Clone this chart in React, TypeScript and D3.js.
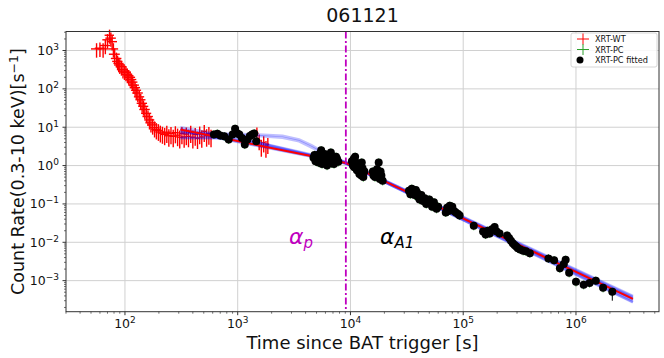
import React from "react";
import * as d3 from "d3";

// XRT-WT points: [time, rate, timeErr, rateErr]
const wtPoints: number[][] = [
  [56, 1100, 6, 450], [60, 1150, 6, 470], [64, 1100, 7, 450], [67, 1350, 7, 550],
  [70, 1900, 7, 780], [73, 2500, 7, 1000], [75, 2100, 8, 850], [77, 1700, 8, 700],
  [79, 1100, 8, 450], [81, 800, 9, 330], [84, 620, 9, 260], [86, 520, 9, 215],
  [88, 460, 9, 190], [90, 420, 10, 175], [93, 380, 10, 160], [96, 320, 10, 135],
  [99, 290, 10, 120], [102, 270, 11, 112], [105, 240, 11, 100], [108, 220, 11, 92],
  [111, 200, 12, 84], [114, 175, 12, 73], [117, 150, 12, 63], [120, 125, 13, 52],
  [123, 108, 13, 45], [126, 92, 13, 39], [130, 78, 14, 33], [134, 62, 14, 26],
  [138, 52, 14, 22], [142, 42, 15, 18], [146, 35, 15, 15], [150, 29, 16, 12.5],
  [155, 23, 16, 10], [160, 19, 17, 8.2], [165, 15.5, 17, 6.8], [170, 13, 18, 5.7],
  [176, 11.5, 18, 5.1], [183, 9.8, 19, 4.4], [190, 8.8, 19, 4], [198, 8.2, 20, 3.8],
  [206, 7.5, 20, 3.5], [215, 7, 20, 3.3], [225, 6.5, 20, 3.1], [235, 7.4, 20, 3.5],
  [245, 6, 20, 2.9], [256, 6.9, 20, 3.3], [268, 5.8, 20, 2.8], [280, 7.2, 20, 3.4],
  [293, 6.2, 20, 3], [306, 5.5, 20, 2.7], [320, 6.9, 20, 3.3], [335, 5.6, 20, 2.7],
  [350, 6.6, 20, 3.2], [366, 5.8, 20, 2.8], [383, 7.4, 20, 3.5], [400, 5.5, 20, 2.7],
  [420, 6.4, 20, 3.1], [440, 5.2, 20, 2.5], [460, 7.0, 20, 3.4], [480, 5.6, 20, 2.7],
  [505, 7.8, 20, 3.7], [530, 6.0, 20, 2.9], [555, 6.8, 20, 3.3], [580, 5.8, 20, 2.8],
  [1480, 7.0, 50, 2.9], [1550, 4.5, 50, 2], [1620, 3.2, 50, 1.5],
  [1700, 4.0, 50, 1.8], [1780, 3.0, 50, 1.4], [1850, 3.6, 50, 1.6],
];

// XRT-PC points (all fitted): [time, rate]
const pcPoints: number[][] = [
  [615, 6.5], [660, 6.8], [700, 6.1], [760, 5.8], [832, 4.8], [900, 6.5],
  [948, 9.1], [990, 7.0], [1034, 6.5], [1090, 5.2], [1156, 3.55], [1220, 4.8],
  [1282, 5.9], [1340, 6.5], [1400, 6.9], [1460, 4.3],
  [4700, 1.6], [4800, 1.9], [4900, 1.3], [5000, 1.5], [5100, 1.9], [5200, 1.2],
  [5300, 1.5], [5400, 2.1], [5500, 2.5], [5550, 1.7], [5600, 1.1], [5700, 1.4],
  [5800, 1.7], [5900, 2.0], [6000, 1.5], [6100, 1.3], [6200, 1.0], [6300, 1.6],
  [6400, 1.8], [6500, 1.2], [6600, 1.4], [6700, 2.2], [6800, 1.15], [7000, 1.6],
  [7150, 1.1], [7300, 1.3], [7450, 1.7], [7600, 1.5], [7800, 1.25],
  [10300, 1.3], [10500, 1.0], [10700, 1.5], [10800, 0.9], [11000, 1.7],
  [11200, 1.2], [11400, 0.75], [11500, 1.0], [11700, 1.1], [11900, 0.8],
  [12000, 0.6], [12200, 0.95], [12300, 0.7], [12500, 0.55], [12600, 1.2],
  [12800, 0.85], [13000, 0.5], [13300, 0.7],
  [15800, 0.7], [16000, 0.55], [16500, 0.5], [16800, 0.65], [17200, 0.8],
  [17500, 0.6], [17800, 1.2], [18200, 0.45], [18500, 0.7], [18800, 0.55],
  [19300, 0.4],
  [33000, 0.22], [34000, 0.18], [35000, 0.25], [36000, 0.2], [37000, 0.17],
  [38000, 0.23], [39000, 0.2], [40000, 0.15], [41000, 0.13], [42500, 0.17],
  [44000, 0.12], [45500, 0.14], [47000, 0.1], [48500, 0.12], [50000, 0.13],
  [52000, 0.1], [53000, 0.085], [55000, 0.11], [56000, 0.09], [58000, 0.075],
  [60000, 0.085],
  [70000, 0.06], [72000, 0.08], [74000, 0.065], [76000, 0.09], [78000, 0.07],
  [80000, 0.085], [83000, 0.065], [86000, 0.06], [90000, 0.055], [93000, 0.05],
  [124000, 0.027], [150000, 0.019], [158000, 0.016], [165000, 0.02],
  [172000, 0.017], [180000, 0.022], [190000, 0.025], [198000, 0.019],
  [210000, 0.017],
  [245000, 0.015], [255000, 0.013], [265000, 0.011], [275000, 0.0095],
  [285000, 0.0085], [295000, 0.0078], [305000, 0.007], [320000, 0.0065],
  [340000, 0.006], [360000, 0.0058], [390000, 0.0052],
  [570000, 0.0038], [640000, 0.0034], [720000, 0.0021], [780000, 0.0027],
  [810000, 0.0035], [870000, 0.0016], [1000000, 0.00093], [1170000, 0.00078],
  [1320000, 0.00087], [1500000, 0.001], [1740000, 0.00065], [2100000, 0.00051],
];

// best fit (red) and posterior samples (blue)
const bestFit: number[][] = [[310, 8.7], [9100, 1.17], [3.2e6, 3.35e-4]];
const sampleFits: number[][][] = [
  [[310, 10], [1000, 5.3], [9100, 1.22], [3.2e6, 4.0e-4]],
  [[310, 5.4], [700, 5.3], [1500, 4.0], [9100, 1.15], [3.2e6, 2.8e-4]],
  [[310, 5.2], [800, 5.1], [1500, 3.9], [9100, 1.14], [3.2e6, 2.7e-4]],
  [[310, 7.0], [1400, 6.5], [2500, 6.0], [3500, 4.8], [4500, 3.4], [5400, 2.5], [9100, 1.2], [3.2e6, 3.6e-4]],
  [[310, 7.2], [1400, 6.0], [2500, 5.3], [3500, 4.3], [4500, 3.0], [5400, 2.3], [9100, 1.18], [3.2e6, 3.4e-4]],
  [[310, 8.2], [9100, 1.13], [3.2e6, 3.0e-4]],
  [[310, 9.0], [9100, 1.2], [3.2e6, 3.8e-4]],
  [[310, 8.5], [9100, 1.16], [3.2e6, 3.3e-4]],
];

const breakTime = 9100;
const xTicks = [1e2, 1e3, 1e4, 1e5, 1e6];
const yTicks = [1e-3, 1e-2, 1e-1, 1e0, 1e1, 1e2, 1e3];

const W = 664;
const H = 358;
const plot = { left: 66, right: 659, top: 31.5, bottom: 311.7 };
const font = "DejaVu Sans, sans-serif";

const minorTicks = (lo: number, hi: number) => {
  const out: number[] = [];
  for (let e = Math.floor(Math.log10(lo)); e <= Math.ceil(Math.log10(hi)); e++) {
    for (let m = 2; m <= 9; m++) {
      const v = m * Math.pow(10, e);
      if (v >= lo && v <= hi) out.push(v);
    }
  }
  return out;
};

const expLabel = (v: number) => {
  const e = Math.round(Math.log10(v));
  return e < 0 ? "\u2212" + Math.abs(e) : String(e);
};

const App = () => {
  const x = d3.scaleLog().domain([30, 5.45e6]).range([plot.left, plot.right]);
  const y = d3.scaleLog().domain([1.55e-4, 3130]).range([plot.bottom, plot.top]);
  const line = d3
    .line<number[]>()
    .x((d) => x(d[0]))
    .y((d) => y(d[1]));

  const [x0, x1] = x.domain();
  const [y0, y1] = y.domain();
  const last = pcPoints[pcPoints.length - 1];

  return (
    <div style={{ position: "absolute", left: 0, top: 0 }}>
      <svg width={W} height={H} style={{ display: "block", background: "#fff" }}>
        {/* grid */}
        {xTicks.map((t) => (
          <line key={"gx" + t} x1={x(t)} x2={x(t)} y1={plot.top} y2={plot.bottom} stroke="#d0d0d0" strokeWidth={1} />
        ))}
        {yTicks.map((t) => (
          <line key={"gy" + t} x1={plot.left} x2={plot.right} y1={y(t)} y2={y(t)} stroke="#d0d0d0" strokeWidth={1} />
        ))}

        {/* XRT-WT */}
        <g stroke="red" strokeWidth={1.4}>
          {wtPoints.map((d, i) => (
            <g key={i}>
              <line x1={x(d[0] - d[2])} x2={x(d[0] + d[2])} y1={y(d[1])} y2={y(d[1])} />
              <line x1={x(d[0])} x2={x(d[0])} y1={y(d[1] + d[3])} y2={y(d[1] - d[3])} />
            </g>
          ))}
        </g>

        {/* XRT-PC error bars */}
        <g stroke="#2ca02c" strokeWidth={1}>
          {pcPoints.map((d, i) => (
            <g key={i}>
              <line x1={x(d[0] * 0.93)} x2={x(d[0] * 1.07)} y1={y(d[1])} y2={y(d[1])} />
              <line x1={x(d[0])} x2={x(d[0])} y1={y(d[1] * 1.28)} y2={y(d[1] * 0.76)} />
            </g>
          ))}
        </g>

        {/* model samples */}
        {sampleFits.map((s, i) => (
          <path key={i} d={line(s) || ""} fill="none" stroke="blue" strokeOpacity={0.25} strokeWidth={2.6} />
        ))}
        <path d={line(bestFit) || ""} fill="none" stroke="red" strokeWidth={2} />

        {/* fitted PC points */}
        <g fill="black">
          {pcPoints.map((d, i) => (
            <circle key={i} cx={x(d[0])} cy={y(d[1])} r={4} />
          ))}
        </g>
        <line x1={x(last[0])} x2={x(last[0])} y1={y(last[1])} y2={y(0.0003)} stroke="black" strokeWidth={1} />

        {/* break time */}
        <line x1={x(breakTime)} x2={x(breakTime)} y1={plot.top} y2={plot.bottom}
          stroke="#bf00bf" strokeWidth={1.8} strokeDasharray="7,2.5,2,2.5" />

        <text x={289} y={244} fontFamily={font} fontStyle="italic" fontSize={22} fill="#bf00bf">
          α<tspan fontSize={15} dy={4}>p</tspan>
        </text>
        <text x={380} y={244} fontFamily={font} fontStyle="italic" fontSize={22} fill="black">
          α<tspan fontSize={15} dy={4}>A1</tspan>
        </text>

        {/* frame */}
        <rect x={plot.left} y={plot.top} width={plot.right - plot.left} height={plot.bottom - plot.top}
          fill="none" stroke="#333" strokeWidth={1} />

        {/* x ticks */}
        {xTicks.map((t) => (
          <g key={"xt" + t}>
            <line x1={x(t)} x2={x(t)} y1={plot.bottom} y2={plot.bottom + 3.5} stroke="#333" />
            <text x={x(t)} y={328} textAnchor="middle" fontFamily={font} fontSize={12.5} fill="#111">
              10<tspan fontSize={9} dy={-5}>{expLabel(t)}</tspan>
            </text>
          </g>
        ))}
        {minorTicks(x0, x1).map((t) => (
          <line key={"xm" + t} x1={x(t)} x2={x(t)} y1={plot.bottom} y2={plot.bottom + 2} stroke="#333" strokeWidth={0.7} />
        ))}

        {/* y ticks */}
        {yTicks.map((t) => (
          <g key={"yt" + t}>
            <line x1={plot.left - 3.5} x2={plot.left} y1={y(t)} y2={y(t)} stroke="#333" />
            <text x={59} y={y(t) + 4.5} textAnchor="end" fontFamily={font} fontSize={12.5} fill="#111">
              10<tspan fontSize={9} dy={-5}>{expLabel(t)}</tspan>
            </text>
          </g>
        ))}
        {minorTicks(y0, y1).map((t) => (
          <line key={"ym" + t} x1={plot.left - 2} x2={plot.left} y1={y(t)} y2={y(t)} stroke="#333" strokeWidth={0.7} />
        ))}

        {/* labels */}
        <text x={(plot.left + plot.right) / 2} y={22} textAnchor="middle" fontFamily={font} fontSize={19} fill="#111">
          061121
        </text>
        <text x={(plot.left + plot.right) / 2} y={349} textAnchor="middle" fontFamily={font} fontSize={18} fill="#111">
          Time since BAT trigger [s]
        </text>
        <text transform={`translate(24,${(plot.top + plot.bottom) / 2}) rotate(-90)`} textAnchor="middle"
          fontFamily={font} fontSize={17.5} fill="#111">
          Count Rate(0.3-10 keV)[s<tspan fontSize={12.5} dy={-6}>−1</tspan><tspan dy={6}>]</tspan>
        </text>

        {/* legend */}
        <g>
          <rect x={571} y={33} width={86} height={34} rx={2} fill="white" fillOpacity={0.85} stroke="#ccc" strokeWidth={0.8} />
          <g stroke="red" strokeWidth={1}>
            <line x1={577} x2={589} y1={39} y2={39} />
            <line x1={583} x2={583} y1={33.5} y2={44.5} />
          </g>
          <g stroke="#2ca02c" strokeWidth={1}>
            <line x1={577} x2={589} y1={49.5} y2={49.5} />
            <line x1={583} x2={583} y1={44} y2={55} />
          </g>
          <circle cx={580} cy={60} r={3.5} fill="black" />
          <g fontFamily={font} fontSize={8.2} fill="#111">
            <text x={595} y={42}>XRT-WT</text>
            <text x={595} y={52.5}>XRT-PC</text>
            <text x={595} y={63}>XRT-PC fitted</text>
          </g>
        </g>
      </svg>
    </div>
  );
};

export default App;
